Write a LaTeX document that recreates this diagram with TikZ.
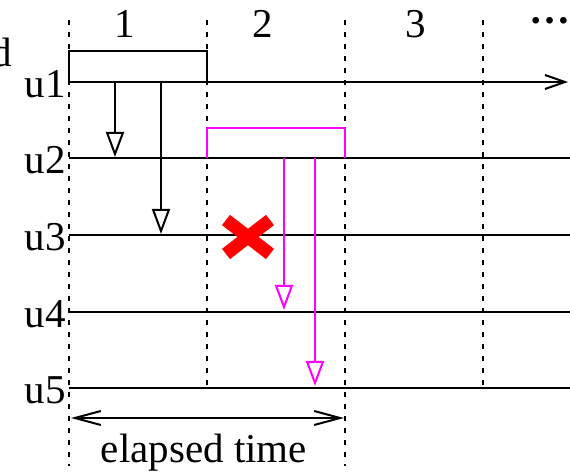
\documentclass[tikz,border=0pt]{standalone}
\usepackage{fontspec}
\setmainfont{Liberation Serif}
\usetikzlibrary{arrows.meta}
\definecolor{slotpink}{RGB}{255,0,255}

\begin{document}
\begin{tikzpicture}[x=0.5pt, y=-0.5pt, >={Straight Barb[length=10pt,width=7pt]},
    msg/.style={-{Triangle[open,length=12.5pt,width=9pt]}, line width=1pt},
    slot/.style={line width=1pt, dash pattern=on 2.5pt off 3.5pt},
    txt/.style={font=\fontsize{20.5}{24}\selectfont, inner sep=0pt}]
    \useasboundingbox (0,0) rectangle (570,476);
    % slot boundaries
    \draw[slot] (69,20) -- (69,466);
    \draw[slot] (207,20) -- (207,388);
    \draw[slot] (345,20) -- (345,466);
    \draw[slot] (483,20) -- (483,388);
    % user lines
    \draw[->, line width=1pt] (69,82) -- (568,82);
    \draw[line width=1pt] (69,158) -- (570,158);
    \draw[line width=1pt] (69,235) -- (570,235);
    \draw[line width=1pt] (69,312) -- (570,312);
    \draw[line width=1pt] (69,388) -- (570,388);
    \node[txt, anchor=base east] (u1) at (66,98) {u1};
    \node[txt, anchor=base east] (u2) at (66,174) {u2};
    \node[txt, anchor=base east] (u3) at (66,251) {u3};
    \node[txt, anchor=base east] (u4) at (66,328) {u4};
    \node[txt, anchor=base east] (u5) at (66,404) {u5};
    \node[txt, anchor=base east] (cut) at (12,67) {d};
    % slot numbers
    \node[txt, anchor=base] (s1) at (125,38) {1};
    \node[txt, anchor=base] (s2) at (263,38) {2};
    \node[txt, anchor=base] (s3) at (416,38) {3};
    \node[txt, anchor=base] (s4) at (550,24) {\textbf{\dots}};
    % u1 sends in slot 1
    \draw[line width=1pt] (69,82) |- (207,51) -- (207,82);
    \draw[msg] (115,82) -- (115,157);
    \draw[msg] (161,82) -- (161,234);
    % u2 sends in slot 2
    \draw[slotpink, line width=1pt] (207,158) |- (345,128) -- (345,158);
    \draw[msg, slotpink] (284,158) -- (284,310);
    \draw[msg, slotpink] (315,158) -- (315,386);
    \draw[red, line width=6.5pt] (226,220) -- (270,254) (226,254) -- (270,220);
    % elapsed time
    \draw[{Straight Barb[length=13pt,width=7pt]}-{Straight Barb[length=13pt,width=7pt]}, line width=1pt] (71,418) -- (344,418);
    \node[txt, anchor=base] (et) at (204,463) {elapsed time};
\end{tikzpicture}
\end{document}
